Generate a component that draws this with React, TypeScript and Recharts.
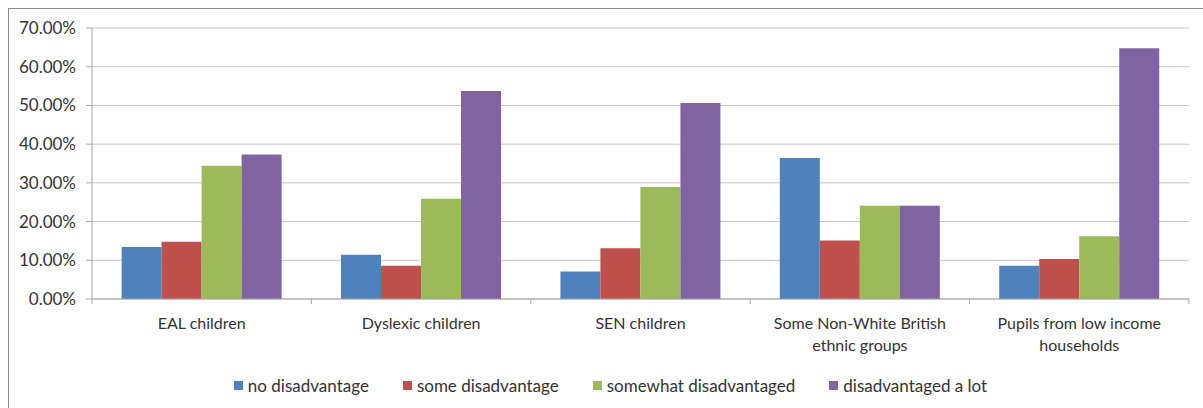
import { BarChart, Bar, XAxis, YAxis, CartesianGrid, Legend } from "recharts";

const categories = [
  "EAL children",
  "Dyslexic children",
  "SEN children",
  "Some Non-White British\nethnic groups",
  "Pupils from low income\nhouseholds",
];

const seriesNames = [
  "no disadvantage",
  "some disadvantage",
  "somewhat disadvantaged",
  "disadvantaged a lot",
];

const noDisadvantage = [0.134, 0.114, 0.071, 0.364, 0.086];
const someDisadvantage = [0.148, 0.086, 0.131, 0.151, 0.103];
const somewhatDisadvantaged = [0.344, 0.259, 0.289, 0.241, 0.162];
const disadvantagedALot = [0.373, 0.537, 0.506, 0.241, 0.648];

const yTicks = [0, 0.1, 0.2, 0.3, 0.4, 0.5, 0.6, 0.7];

const colors = ["#4f81bd", "#c0504d", "#9bbb59", "#8064a2"];
const keys = ["a", "b", "c", "d"];
const FONT = "Lato, 'Open Sans', sans-serif";
const TEXT = "#333";

const data = categories.map((name, i) => ({
  name,
  a: noDisadvantage[i],
  b: someDisadvantage[i],
  c: somewhatDisadvantaged[i],
  d: disadvantagedALot[i],
}));

const CategoryTick = (props: any) => {
  const { x, y, payload } = props;
  const half = payload?.offset ?? 0;
  const lines = String(payload.value).split("\n");
  return (
    <g>
      <line x1={x + half} x2={x + half} y1={y - 8} y2={y - 3} stroke="#a6a6a6" />
      {categories[0] === payload.value && (
        <line x1={x - half} x2={x - half} y1={y - 8} y2={y - 3} stroke="#a6a6a6" />
      )}
      <text textAnchor="middle" fill={TEXT} fontSize={16} fontFamily={FONT}>
        {lines.map((l, i) => (
          <tspan key={i} x={x} y={y + 22 + i * 22}>
            {l}
          </tspan>
        ))}
      </text>
    </g>
  );
};

const LegendContent = () => (
  <div
    style={{
      display: "flex",
      justifyContent: "center",
      alignItems: "center",
      height: 50,
      paddingLeft: 66,
      paddingTop: 4,
      boxSizing: "border-box",
      fontFamily: FONT,
      fontSize: 17,
      color: TEXT,
    }}
  >
    {seriesNames.map((s, i) => (
      <div key={s} style={{ display: "flex", alignItems: "center", marginRight: 34 }}>
        <span
          style={{
            width: 9,
            height: 9,
            background: colors[i],
            display: "inline-block",
            marginRight: 5,
          }}
        />
        <span>{s}</span>
      </div>
    ))}
  </div>
);

export default function App() {
  return (
    <div style={{ position: "absolute", left: 0, top: 0, width: 1203, height: 408, background: "#fff" }}>
      <div
        style={{
          position: "absolute",
          left: 8,
          top: 8,
          width: 1200,
          height: 405,
          border: "1px solid #8c8c8c",
          boxSizing: "border-box",
        }}
      />
      <BarChart
        width={1203}
        height={408}
        data={data}
        margin={{ top: 28, right: 14, left: 0, bottom: 0 }}
        barCategoryGap="13.5%"
        barGap={0}
        style={{ position: "absolute", left: 0, top: 0 }}
      >
        <CartesianGrid vertical={false} stroke="#c4c4c4" />
        <XAxis
          dataKey="name"
          height={59}
          interval={0}
          tick={<CategoryTick />}
          tickLine={false}
          axisLine={{ stroke: "#a6a6a6" }}
        />
        <YAxis
          width={92}
          domain={[0, 0.7]}
          ticks={yTicks}
          interval={0}
          tickFormatter={(v: number) => (v * 100).toFixed(2) + "%"}
          tick={{ fill: TEXT, fontSize: 17, fontFamily: FONT }}
          tickSize={6}
          tickMargin={10}
          tickLine={{ stroke: "#a6a6a6" }}
          axisLine={{ stroke: "#a6a6a6" }}
        />
        <Legend verticalAlign="bottom" height={50} content={<LegendContent />} />
        {keys.map((k, i) => (
          <Bar key={k} dataKey={k} name={seriesNames[i]} fill={colors[i]} isAnimationActive={false} />
        ))}
      </BarChart>
    </div>
  );
}
